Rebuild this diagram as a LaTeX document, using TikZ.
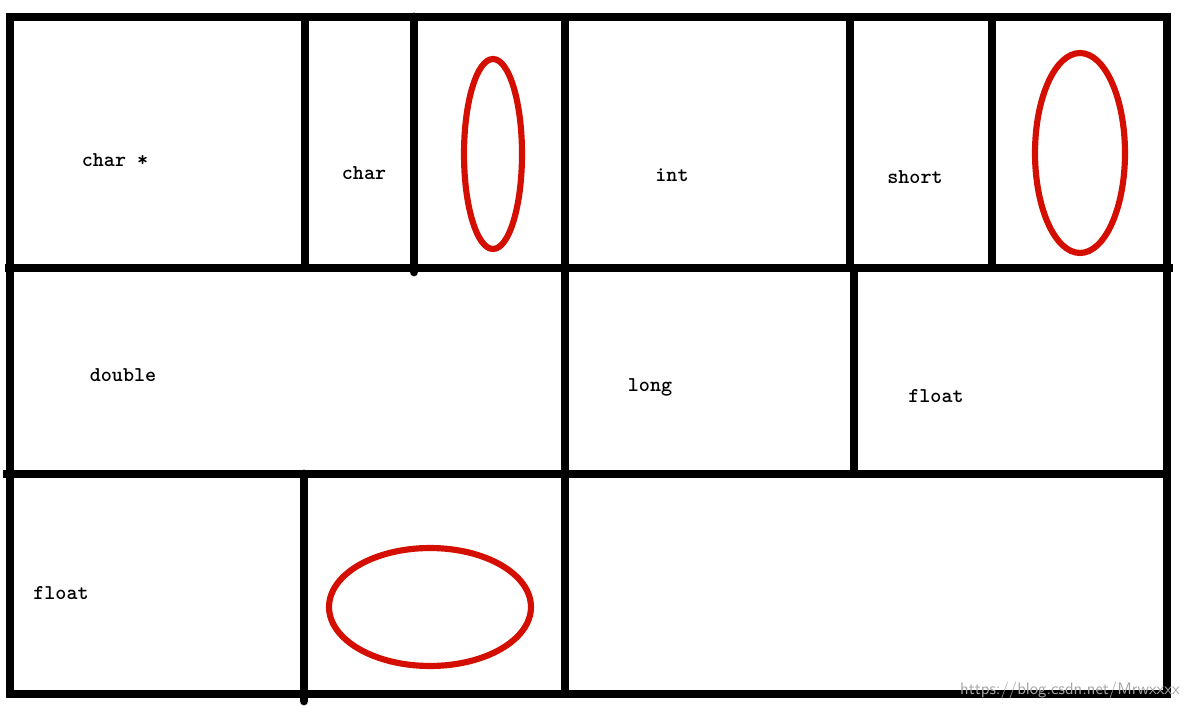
\documentclass[tikz,border=0pt]{standalone}
\usepackage{fontspec}
\definecolor{ringred}{RGB}{212,14,0}
\begin{document}
\begin{tikzpicture}[x=0.02cm,y=-0.02cm,
  wall/.style={line width=5pt},
  ring/.style={draw=ringred, line width=3.5pt},
  label/.style={font=\ttfamily\bfseries\fontsize{12}{14}\selectfont}]
\useasboundingbox[fill=white] (0,0) rectangle (1190,709);
\draw[wall] (10,17) rectangle (1167,694);
\draw[wall] (5,268) -- (1173,268);
\draw[wall] (3,474) -- (1167,474);
\draw[wall] (305,17) -- (305,268);
\draw[wall, line cap=round] (414,17) -- (414,272);
\draw[wall] (565,17) -- (565,694);
\draw[wall] (850,17) -- (850,268);
\draw[wall] (992,17) -- (992,268);
\draw[wall] (854,268) -- (854,474);
\draw[wall, line cap=round] (304,474) -- (304,701);

\draw[ring] (493,154) ellipse [x radius=0.58cm, y radius=1.9cm];
\draw[ring] (1080,153) ellipse [x radius=0.9cm, y radius=2.0cm];
\draw[ring] (430,607) ellipse [x radius=2.02cm, y radius=1.18cm];

\node[label] (charptr) at (115,160) {char *};
\node[label] (char) at (364,173) {char};
\node[label] (int) at (672,175) {int};
\node[label] (short) at (915,177) {short};
\node[label] (double) at (123,375) {double};
\node[label] (long) at (650,387) {long};
\node[label] (floatb) at (936,396) {float};
\node[label] (floatc) at (61,593) {float};
\node[anchor=east, text=black!35, font=\sffamily\fontsize{9.5}{11}\selectfont] (mark) at (1186,690) {https://blog.csdn.net/Mrwxxxx};
\end{tikzpicture}
\end{document}
